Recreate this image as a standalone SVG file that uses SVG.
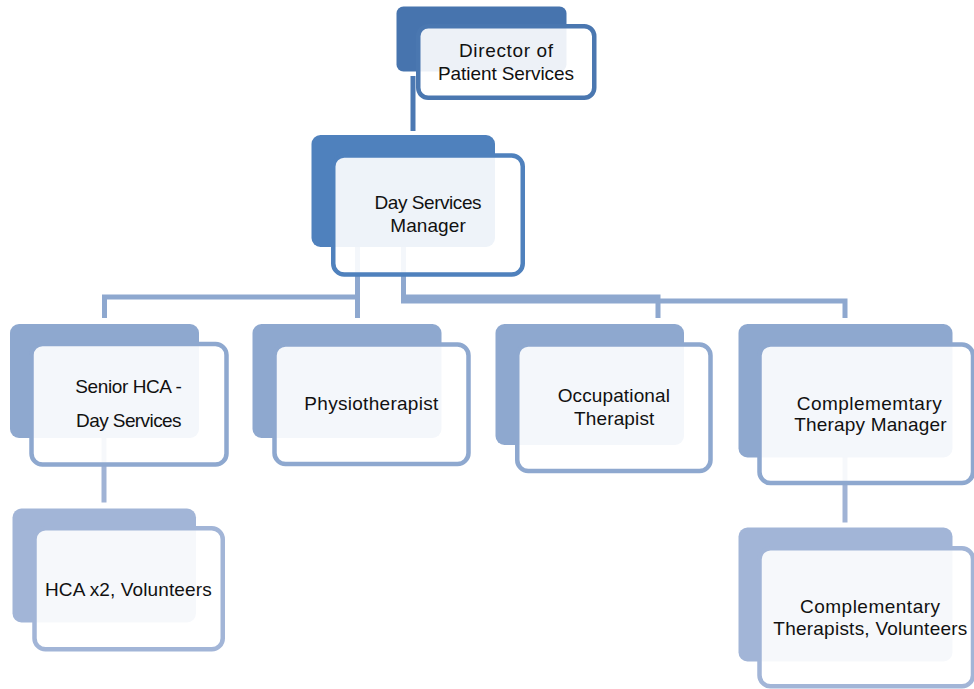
<svg xmlns="http://www.w3.org/2000/svg" width="974" height="689" viewBox="0 0 974 689">
<style>
text{font-family:"Liberation Sans",Arial,sans-serif;font-size:19px;fill:#111;text-anchor:middle}
.front{fill:#fff;fill-opacity:0.9;stroke-width:4.5}
.l0b{fill:#4774AE}.l0f{stroke:#4A77B0}
.l1b{fill:#4F81BD}.l1f{stroke:#4F81BD}
.l2b{fill:#8EA8CF}.l2f{stroke:#8EA8CF}
.l3b{fill:#A2B5D7}.l3f{stroke:#A2B5D7}
.c{fill:none;stroke-width:5;stroke-linejoin:miter}
</style>
<rect width="974" height="689" fill="#fff"/>
<g id="connectors">
<path class="c" d="M413,76 V131" stroke="#4B78B2" stroke-width="4.5"/>
<path class="c" stroke="#8EA8CF" d="M357.5,247 V297 H104.5 V318"/>
<path class="c" stroke="#8EA8CF" d="M357.5,297 V318"/>
<path class="c" stroke="#8EA8CF" d="M403.5,247 V297 H658 V318"/>
<path class="c" stroke="#8EA8CF" d="M403.5,297 V301 H845 V318"/>
<path class="c" stroke="#A0B3D5" d="M104,438 V502.5"/>
<path class="c" stroke="#A0B3D5" d="M845,457 V522.5"/>
</g>
<g id="director">
<rect class="l0b" x="396.5" y="6.5" width="170" height="65" rx="7"/>
<rect class="front l0f" x="418.25" y="26.25" width="176" height="71.5" rx="10"/>
<text x="506" y="56.5" textLength="94" lengthAdjust="spacing">Director of</text>
<text x="506" y="80" textLength="136" lengthAdjust="spacing">Patient Services</text>
</g>
<g id="day-services-manager">
<rect class="l1b" x="311.5" y="135" width="183.5" height="112" rx="9"/>
<rect class="front l1f" x="333.25" y="155.5" width="189.5" height="119" rx="11"/>
<text x="428" y="209" textLength="107" lengthAdjust="spacing">Day Services</text>
<text x="428" y="231.5" textLength="75.5" lengthAdjust="spacing">Manager</text>
</g>
<g id="senior-hca">
<rect class="l2b" x="10" y="324" width="189" height="114" rx="9"/>
<rect class="front l2f" x="31.5" y="344" width="195" height="120.5" rx="11"/>
<text x="128.5" y="393.3" textLength="106.5" lengthAdjust="spacing">Senior HCA -</text>
<text x="128.8" y="426.7" textLength="105.5" lengthAdjust="spacing">Day Services</text>
</g>
<g id="physiotherapist">
<rect class="l2b" x="252.5" y="324" width="189" height="114" rx="9"/>
<rect class="front l2f" x="274.5" y="344.5" width="194" height="119.5" rx="11"/>
<text x="371.3" y="410" textLength="134" lengthAdjust="spacing">Physiotherapist</text>
</g>
<g id="occupational-therapist">
<rect class="l2b" x="495.5" y="324" width="188.5" height="121" rx="9"/>
<rect class="front l2f" x="517.25" y="344.5" width="193.25" height="126.5" rx="11"/>
<text x="613.8" y="401.7" textLength="112.3" lengthAdjust="spacing">Occupational</text>
<text x="614.2" y="425" textLength="80.3" lengthAdjust="spacing">Therapist</text>
</g>
<g id="complementary-therapy-manager">
<rect class="l2b" x="738.5" y="324" width="214" height="133.5" rx="9"/>
<rect class="front l2f" x="759.5" y="344.5" width="213.5" height="138.5" rx="11"/>
<text x="869.2" y="410" textLength="145" lengthAdjust="spacing">Complememtary</text>
<text x="870.5" y="431" textLength="152.3" lengthAdjust="spacing">Therapy Manager</text>
</g>
<g id="hca-volunteers">
<rect class="l3b" x="12.5" y="508.5" width="183.5" height="114" rx="9"/>
<rect class="front l3f" x="34.5" y="528.25" width="188.25" height="121" rx="11"/>
<text x="128.3" y="596" textLength="166.7" lengthAdjust="spacing">HCA x2, Volunteers</text>
</g>
<g id="complementary-therapists">
<rect class="l3b" x="738.5" y="527.5" width="214" height="134" rx="9"/>
<rect class="front l3f" x="759.5" y="548.25" width="213.5" height="138" rx="11"/>
<text x="870" y="612.7" textLength="140" lengthAdjust="spacing">Complementary</text>
<text x="870.3" y="635" textLength="194" lengthAdjust="spacing">Therapists, Volunteers</text>
</g>
</svg>
